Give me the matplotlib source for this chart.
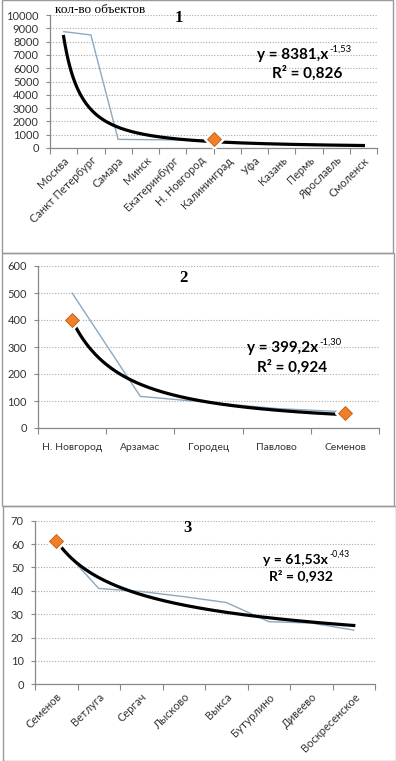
import numpy as np
import matplotlib.pyplot as plt
from matplotlib.patches import Rectangle

plt.rcParams['font.family'] = ['Lato', 'DejaVu Sans']

# Chart 1 - cities of Russia
cities1 = ['Москва', 'Санкт Петербург', 'Самара', 'Минск', 'Екатеринбург',
           'Н. Новгород', 'Калининград', 'Уфа', 'Казань', 'Пермь',
           'Ярославль', 'Смоленск']
counts1 = [8750, 8500, 650, 630, 610, 600, 420, 350, 300, 250, 210, 190]
mark1_pos = [5.5]
mark1_val = [650]
a1, b1 = 8381, -1.53

# Chart 2 - Nizhny Novgorod region, big towns
cities2 = ['Н. Новгород', 'Арзамас', 'Городец', 'Павлово', 'Семенов']
counts2 = [500, 117, 95, 72, 60]
mark2_pos = [0, 4]
mark2_val = [400, 55]
a2, b2 = 399.2, -1.30

# Chart 3 - small towns
cities3 = ['Семенов', 'Ветлуга', 'Сергач', 'Лысково', 'Выкса', 'Бутурлино',
           'Дивеево', 'Воскресенское']
counts3 = [61, 41, 39.7, 37.5, 35, 26.8, 26.2, 23.2]
mark3_pos = [0]
mark3_val = [61.3]
a3, b3 = 61.53, -0.43

W, H = 396, 761
fig = plt.figure(figsize=(W/100, H/100), dpi=100)

def px(x, y):
    return x/W, 1 - y/H

def make_ax(x0, x1, ytop, ybot):
    return fig.add_axes([x0/W, 1 - ybot/H, (x1-x0)/W, (ybot-ytop)/H])

# panel frames
for (x0, y0, x1, y1) in [(2, 0, 393, 253), (2, 253, 394, 506), (3, 506, 396, 761)]:
    fig.patches.append(Rectangle((x0/W, 1-y1/H), (x1-x0)/W, (y1-y0)/H,
                                 transform=fig.transFigure, fill=False,
                                 edgecolor='#9a9a9a', lw=1))

line_col = '#8ca8c0'

def draw(ax, cats, vals, mpos, mval, a, b, ymax, ystep, rot):
    n = len(cats)
    pos = np.arange(n)
    ax.plot(pos, vals, color=line_col, lw=1.0, zorder=2)
    # power trendline from the coefficients printed on the chart
    xs = np.linspace(0, n-1, 200)
    ax.plot(xs, a*(xs+1)**b, color='black', lw=2.3, zorder=3)
    ax.plot(mpos, mval, 'D', ms=10, color='white', zorder=4)
    ax.plot(mpos, mval, 'D', ms=7.5, color='#f07f2a', mec='#c05a10', mew=0.6, zorder=5)
    ax.set_xlim(-0.5, n-0.5)
    ax.set_ylim(0, ymax)
    ax.set_yticks(np.arange(0, ymax+1, ystep))
    ax.yaxis.grid(True, linestyle=(0, (1, 1.5)), color='#a8a8a8', lw=0.8)
    ax.set_axisbelow(True)
    ax.set_xticks(np.arange(n+1) - 0.5)
    ax.set_xticklabels([])
    ax.set_xticks(pos, minor=True)
    if rot:
        ax.set_xticklabels(cats, minor=True, rotation=45, ha='right',
                           rotation_mode='anchor', fontsize=8, color='#333333')
        ax.tick_params(axis='x', which='minor', length=0, pad=5)
    else:
        ax.set_xticklabels(cats, minor=True, fontsize=7.5, color='#333333')
        ax.tick_params(axis='x', which='minor', length=0, pad=11)
    ax.tick_params(axis='x', which='major', length=4, color='#888888')
    ax.tick_params(axis='y', length=3, color='#888888', labelsize=8,
                   labelcolor='#333333', pad=5)
    for s in ['top', 'right']:
        ax.spines[s].set_visible(False)
    for s in ['left', 'bottom']:
        ax.spines[s].set_color('#888888')
        ax.spines[s].set_linewidth(0.9)

ax1 = make_ax(50, 377, 15, 148)
draw(ax1, cities1, counts1, mark1_pos, mark1_val, a1, b1, 10000, 1000, True)
ax2 = make_ax(38, 379, 266, 428)
draw(ax2, cities2, counts2, mark2_pos, mark2_val, a2, b2, 600, 100, False)
ax3 = make_ax(35, 375, 520.7, 684.3)
draw(ax3, cities3, counts3, mark3_pos, mark3_val, a3, b3, 70, 10, True)

# titles
serif = 'Liberation Serif'
fig.text(*px(100, 10), 'кол-во объектов', family=serif, fontsize=9.5,
         ha='center', va='center')
for x, y, t in [(179, 18, '1'), (183, 278, '2'), (188, 528, '3')]:
    fig.text(*px(x, y), t, family=serif, fontsize=12, fontweight='bold',
             ha='center', va='center')

# trend equations: main part ends where the exponent starts
eqs = [(328, 55, 307, 73, 'y = 8381,x', '-1,53', 'R² = 0,826', 11),
       (318, 348, 292, 367, 'y = 399,2x', '-1,30', 'R² = 0,924', 11),
       (328, 560, 301, 576, 'y = 61,53x', '-0,43', 'R² = 0,932', 10)]
for ex, ey, rx, ry, e, sup, r, fs in eqs:
    t = fig.text(*px(ex, ey), e, fontsize=fs, fontweight='bold',
                 ha='right', va='center')
    fig.add_artist(plt.Annotation(sup, xy=(1.0, 0.62), xycoords=t,
                                  xytext=(1, 0), textcoords='offset points',
                                  fontsize=fs*0.62, ha='left', va='bottom'))
    fig.text(*px(rx, ry), r, fontsize=fs, fontweight='bold', ha='center', va='center')

fig.savefig('out.png', dpi=100)
